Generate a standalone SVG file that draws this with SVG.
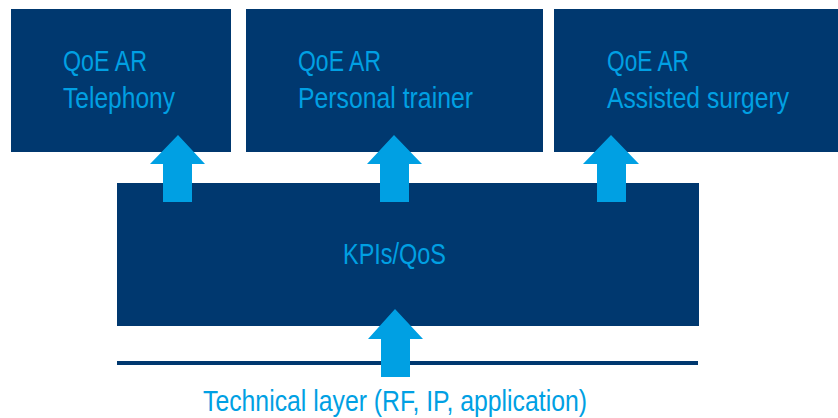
<svg xmlns="http://www.w3.org/2000/svg" width="838" height="418" viewBox="0 0 838 418">
<style>
.box{fill:#00386f}
.t{fill:#00a0e3;font-family:"Liberation Sans",Arial,sans-serif;font-size:29px}
.arrow{fill:#00a0e3}
</style>
<rect width="838" height="418" fill="#ffffff"/>
<g id="telephony">
<rect class="box" x="11" y="9" width="220" height="143"/>
<text class="t" x="63" y="71" textLength="84" lengthAdjust="spacingAndGlyphs">QoE AR</text>
<text class="t" x="63" y="108" textLength="112" lengthAdjust="spacingAndGlyphs">Telephony</text>
</g>
<g id="trainer">
<rect class="box" x="246" y="9" width="297" height="143"/>
<text class="t" x="298" y="71" textLength="83" lengthAdjust="spacingAndGlyphs">QoE AR</text>
<text class="t" x="298" y="108" textLength="175" lengthAdjust="spacingAndGlyphs">Personal trainer</text>
</g>
<g id="surgery">
<rect class="box" x="554" y="9" width="284" height="143"/>
<text class="t" x="607" y="71" textLength="82" lengthAdjust="spacingAndGlyphs">QoE AR</text>
<text class="t" x="607" y="108" textLength="182" lengthAdjust="spacingAndGlyphs">Assisted surgery</text>
</g>
<g id="kpis">
<rect class="box" x="117" y="183" width="582" height="143"/>
<text class="t" x="343" y="264" textLength="103" lengthAdjust="spacingAndGlyphs">KPIs/QoS</text>
</g>
<g id="technical">
<rect class="box" x="117" y="361" width="581" height="4"/>
<text class="t" x="203" y="411" font-size="28" textLength="384" lengthAdjust="spacingAndGlyphs">Technical layer (RF, IP, application)</text>
</g>
<g id="connectors">
<polygon class="arrow" points="178,135 205,164 192,164 192,202 163,202 163,164 150,164"/>
<polygon class="arrow" points="394,135 422,164 409,164 409,202 380,202 380,164 367,164"/>
<polygon class="arrow" points="611,135 639,164 626,164 626,202 597,202 597,164 583,164"/>
<polygon class="arrow" points="395,309 423,339 410,339 410,377 381,377 381,339 368,339"/>
</g>
</svg>
